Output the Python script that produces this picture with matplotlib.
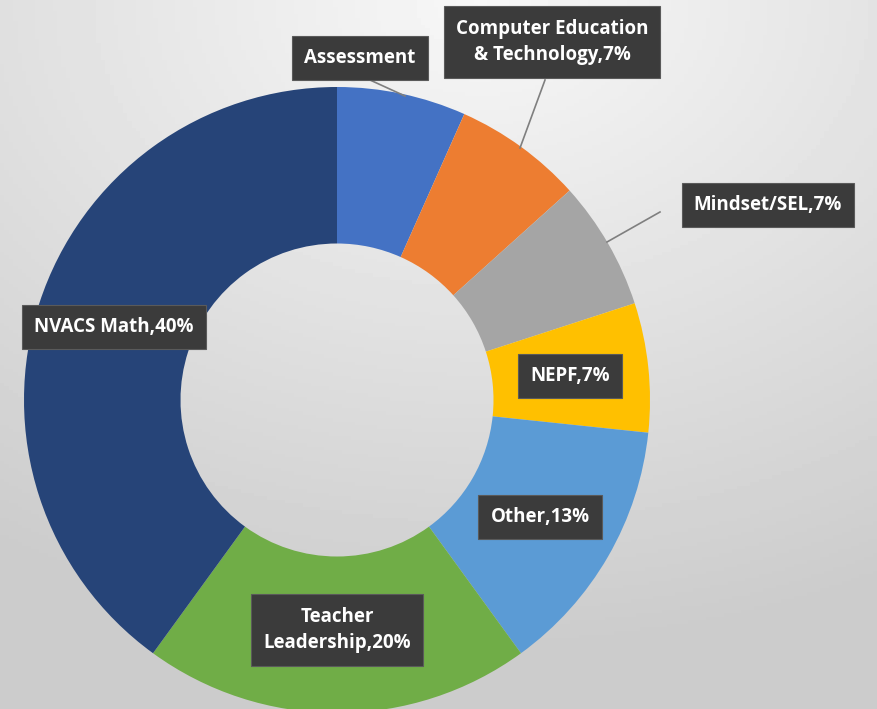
import numpy as np
import matplotlib.pyplot as plt

# pd sessions by topic (counts out of 15)
topics = ['Assessment', 'Computer Education\n& Technology', 'Mindset/SEL', 'NEPF',
          'Other', 'Teacher\nLeadership', 'NVACS Math']
counts = [1, 1, 1, 1, 2, 3, 6]
colors = ['#4472C4', '#ED7D31', '#A5A5A5', '#FFC000', '#5B9BD5', '#70AD47', '#264478']

W, H = 877, 709
fig = plt.figure(figsize=(W / 100, H / 100), dpi=100)

# background gradient (light at top, grey at bottom)
bg = fig.add_axes([0, 0, 1, 1])
yy, xx = np.mgrid[0:1:200j, 0:1:200j]
shade = 0.97 - 0.17 * np.clip(np.sqrt((xx - 0.55) ** 2 + (yy * 1.1) ** 2), 0, 1)
bg.imshow(shade, cmap='gray', vmin=0, vmax=1, aspect='auto', extent=[0, 1, 1, 0])
bg.axis('off')

ax = fig.add_axes([0, 0, 1, 1])
ax.patch.set_alpha(0)

cx, cy, r = 337, H - 400, 313
wedges, _ = ax.pie(counts, colors=colors, startangle=90, counterclock=False,
                   center=(cx, cy), radius=r, wedgeprops=dict(width=r * 0.5))
ax.set_xlim(0, W)
ax.set_ylim(0, H)
ax.set_aspect('equal')
ax.axis('off')

pct = [round(100 * c / sum(counts)) for c in counts]
labels = [f'{t},{p}%' for t, p in zip(topics, pct)]
labels[0] = topics[0]

# label positions in pixels from top-left
label_pos = [(360, 58), (552, 42), (768, 205), (570, 376), (540, 517), (337, 630), (114, 327)]
leaders = [((370, 80), (405, 96)), ((545, 80), (520, 148)), ((660, 212), (607, 242))]

for (p0, p1) in leaders:
    ax.plot([p0[0], p1[0]], [H - p0[1], H - p1[1]], color='#7f7f7f', lw=1.2, zorder=3)

box = dict(boxstyle='square,pad=0.65', facecolor='#3b3b3b', edgecolor='#5a5a5a', lw=0.8)
for lab, (x, y) in zip(labels, label_pos):
    ax.text(x, H - y, lab, ha='center', va='center', color='white', fontsize=13.5,
            fontweight='bold', family=['Open Sans', 'DejaVu Sans'], linespacing=1.45,
            bbox=box, zorder=4)

fig.savefig('out.png', dpi=100)
